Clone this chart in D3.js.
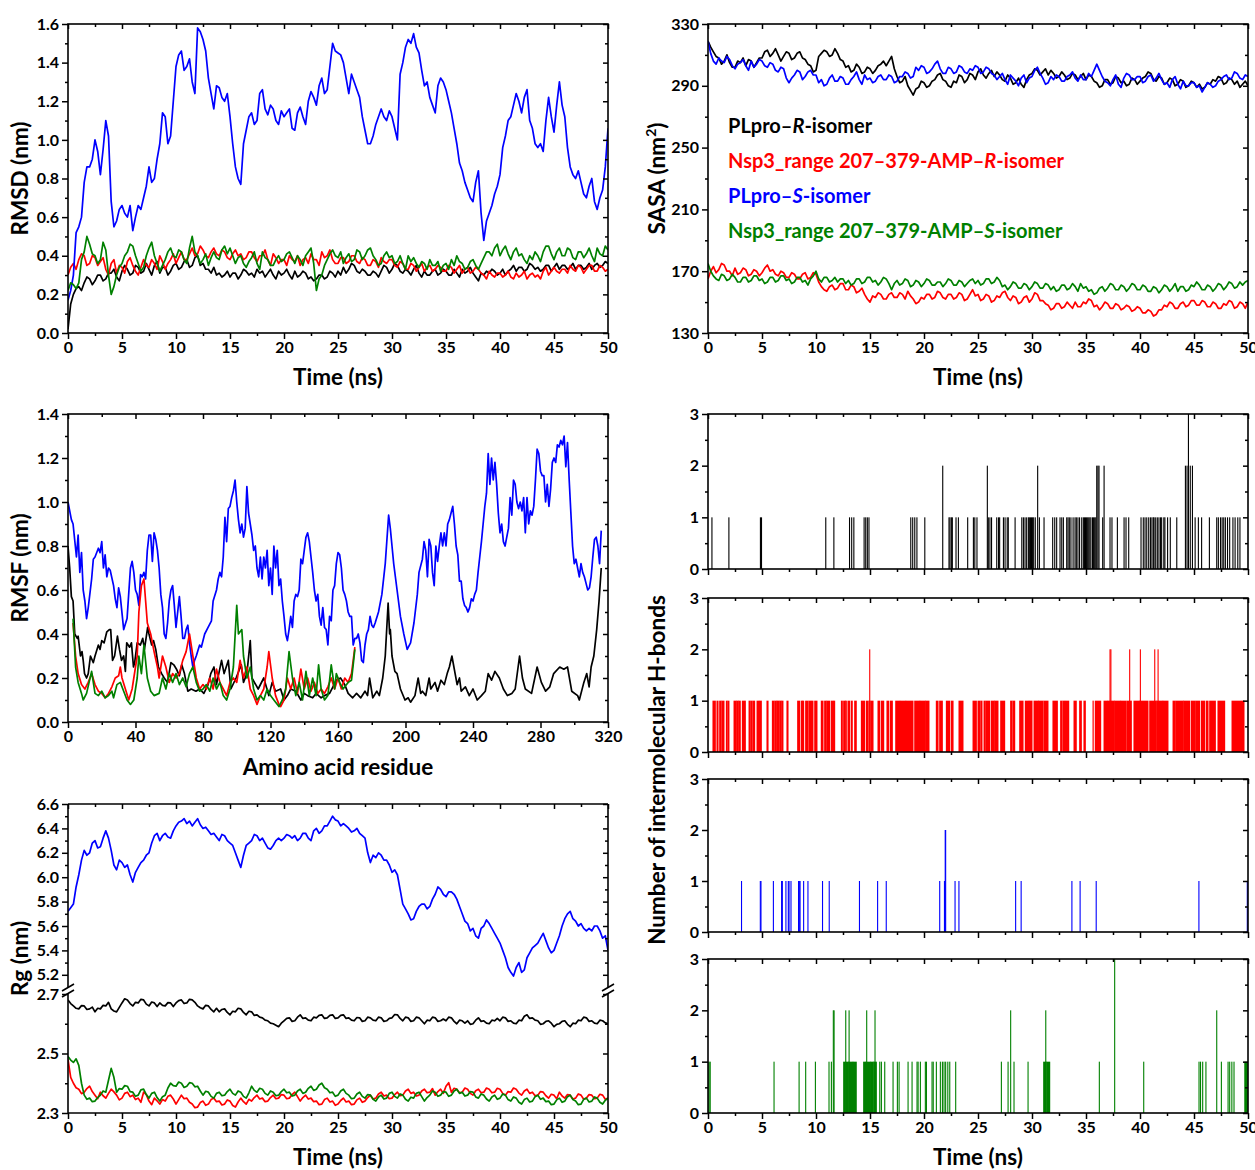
<!DOCTYPE html>
<html><head><meta charset="utf-8">
<script src="https://cdn.jsdelivr.net/npm/d3@7"></script>
<style>body{margin:0;background:#fff;} svg text{font-family:Lato,'Open Sans',sans-serif;font-weight:700;}</style>
</head><body>
<script>
// ---------------- DATA ----------------
const colors = {black:"#000000", red:"#ff0000", blue:"#0000ff", green:"#008000"};
const legendNames = [
  ["PLpro–", "R", "-isomer", "black"],
  ["Nsp3_range 207–379-AMP–", "R", "-isomer", "red"],
  ["PLpro–", "S", "-isomer", "blue"],
  ["Nsp3_range 207–379-AMP–", "S", "-isomer", "green"]
];
const timeTicks = [0,5,10,15,20,25,30,35,40,45,50];
const timeMinor = [2.5,7.5,12.5,17.5,22.5,27.5,32.5,37.5,42.5,47.5];
const rmsdTicks = [0,0.2,0.4,0.6,0.8,1.0,1.2,1.4,1.6];
const rmsdMinor = [0.1,0.3,0.5,0.7,0.9,1.1,1.3,1.5];
const sasaTicks = [130,170,210,250,290,330];
const sasaMinor = [150,190,230,270,310];
const resTicks = [0,40,80,120,160,200,240,280,320];
const resMinor = [20,60,100,140,180,220,260,300];
const rmsfTicks = [0,0.2,0.4,0.6,0.8,1.0,1.2,1.4];
const rmsfMinor = [0.1,0.3,0.5,0.7,0.9,1.1,1.3];
const rgUpTicks = [5.2,5.4,5.6,5.8,6.0,6.2,6.4,6.6];
const rgUpMinor = [5.3,5.5,5.7,5.9,6.1,6.3,6.5];
const rgLowTicks = [2.3,2.5,2.7];
const rgLowMinor = [2.4,2.6];
const hbTicks = [0,1,2,3];
const hbMinor = [0.5,1.5,2.5];

// RMSD (nm), sampled every 0.25 ns from 0 to 50 ns
const rmsdBlack = [0.02,0.15,0.20,0.23,0.24,0.22,0.26,0.29,0.28,0.25,0.27,0.30,0.30,0.27,0.28,0.31,0.31,0.33,0.29,0.27,
0.32,0.35,0.33,0.30,0.31,0.35,0.34,0.31,0.32,0.36,0.33,0.30,0.35,0.37,0.31,0.34,0.34,0.30,0.32,0.35,
0.36,0.33,0.34,0.37,0.38,0.34,0.35,0.39,0.40,0.35,0.36,0.33,0.33,0.31,0.34,0.30,0.31,0.29,0.30,0.32,
0.29,0.31,0.31,0.28,0.30,0.33,0.32,0.30,0.31,0.29,0.33,0.31,0.32,0.29,0.31,0.33,0.30,0.28,0.32,0.30,
0.31,0.33,0.30,0.28,0.32,0.29,0.30,0.32,0.31,0.28,0.29,0.27,0.28,0.30,0.30,0.28,0.29,0.32,0.31,0.29,
0.32,0.30,0.34,0.31,0.33,0.36,0.35,0.32,0.31,0.33,0.32,0.30,0.30,0.32,0.31,0.29,0.32,0.35,0.34,0.31,
0.33,0.36,0.35,0.32,0.31,0.33,0.32,0.30,0.33,0.35,0.31,0.29,0.32,0.30,0.30,0.32,0.33,0.30,0.31,0.33,
0.32,0.30,0.30,0.33,0.31,0.29,0.33,0.31,0.32,0.34,0.31,0.29,0.27,0.31,0.30,0.32,0.31,0.33,0.32,0.30,
0.31,0.33,0.30,0.32,0.33,0.35,0.32,0.34,0.34,0.32,0.33,0.36,0.35,0.33,0.34,0.32,0.33,0.35,0.35,0.32,
0.34,0.36,0.33,0.35,0.35,0.33,0.34,0.36,0.33,0.35,0.35,0.33,0.34,0.36,0.33,0.35,0.36,0.34,0.35,0.37,0.36];
const rmsdRed = [0.30,0.34,0.36,0.33,0.38,0.41,0.40,0.35,0.36,0.40,0.39,0.35,0.37,0.39,0.33,0.30,0.36,0.38,0.31,0.35,
0.34,0.31,0.37,0.39,0.35,0.32,0.30,0.34,0.38,0.35,0.34,0.38,0.36,0.33,0.40,0.37,0.33,0.36,0.38,0.41,
0.36,0.39,0.42,0.38,0.38,0.41,0.44,0.40,0.41,0.45,0.43,0.40,0.39,0.42,0.44,0.41,0.40,0.43,0.42,0.39,
0.38,0.41,0.43,0.40,0.41,0.38,0.39,0.42,0.42,0.39,0.37,0.40,0.40,0.43,0.38,0.35,0.41,0.39,0.36,0.38,
0.38,0.35,0.40,0.38,0.37,0.40,0.35,0.38,0.39,0.36,0.41,0.38,0.38,0.35,0.42,0.39,0.40,0.43,0.38,0.36,
0.36,0.39,0.39,0.36,0.37,0.40,0.40,0.37,0.36,0.39,0.38,0.35,0.35,0.38,0.37,0.34,0.39,0.37,0.36,0.38,
0.38,0.35,0.34,0.37,0.36,0.33,0.33,0.36,0.35,0.32,0.34,0.36,0.32,0.34,0.35,0.32,0.33,0.35,0.34,0.32,
0.32,0.35,0.34,0.31,0.33,0.35,0.31,0.33,0.34,0.31,0.32,0.34,0.33,0.31,0.30,0.28,0.32,0.30,0.29,0.31,
0.31,0.29,0.30,0.32,0.29,0.28,0.31,0.29,0.30,0.32,0.28,0.30,0.31,0.29,0.30,0.28,0.32,0.34,0.30,0.32,
0.34,0.32,0.31,0.33,0.33,0.31,0.35,0.33,0.32,0.35,0.34,0.31,0.33,0.35,0.35,0.32,0.32,0.35,0.34,0.32,0.33];
const rmsdBlue = [0.17,0.22,0.30,0.52,0.55,0.60,0.78,0.86,0.86,0.90,1.00,0.94,0.82,0.95,1.10,1.02,0.68,0.55,0.58,0.64,
0.66,0.62,0.60,0.66,0.53,0.60,0.66,0.64,0.70,0.76,0.86,0.78,0.80,0.90,0.98,1.14,1.12,0.98,1.02,1.20,
1.38,1.44,1.46,1.36,1.38,1.42,1.30,1.24,1.58,1.56,1.52,1.46,1.32,1.24,1.16,1.28,1.27,1.22,1.20,1.24,
1.12,0.98,0.86,0.80,0.77,0.98,1.05,1.12,1.14,1.08,1.10,1.24,1.26,1.16,1.13,1.18,1.16,1.10,1.08,1.15,
1.12,1.14,1.16,1.06,1.05,1.14,1.17,1.12,1.08,1.20,1.25,1.22,1.18,1.28,1.32,1.24,1.26,1.38,1.50,1.46,
1.45,1.44,1.40,1.32,1.24,1.34,1.30,1.26,1.22,1.12,1.05,0.98,0.98,1.02,1.08,1.12,1.16,1.12,1.10,1.15,
1.12,1.06,1.00,1.34,1.40,1.48,1.52,1.50,1.55,1.48,1.45,1.36,1.28,1.30,1.22,1.18,1.14,1.28,1.32,1.30,
1.26,1.20,1.14,1.06,0.98,0.88,0.84,0.78,0.74,0.70,0.68,0.78,0.84,0.62,0.48,0.58,0.62,0.66,0.72,0.76,
0.82,0.96,1.02,1.10,1.12,1.18,1.24,1.20,1.14,1.22,1.26,1.10,1.06,0.98,0.96,0.98,0.94,1.10,1.22,1.12,
1.04,1.18,1.30,1.18,1.12,0.96,0.86,0.82,0.80,0.84,0.78,0.72,0.70,0.76,0.80,0.68,0.64,0.70,0.74,0.86,1.06];
const rmsdGreen = [0.22,0.26,0.25,0.23,0.26,0.38,0.42,0.50,0.46,0.41,0.40,0.36,0.38,0.47,0.43,0.30,0.20,0.24,0.30,0.34,
0.36,0.40,0.42,0.46,0.45,0.40,0.36,0.32,0.34,0.40,0.44,0.47,0.40,0.36,0.32,0.35,0.38,0.42,0.44,0.40,
0.39,0.43,0.42,0.38,0.36,0.44,0.50,0.42,0.40,0.36,0.38,0.41,0.35,0.39,0.42,0.39,0.38,0.43,0.45,0.41,
0.44,0.40,0.36,0.39,0.40,0.36,0.34,0.37,0.39,0.42,0.36,0.33,0.42,0.39,0.38,0.35,0.35,0.38,0.40,0.37,
0.38,0.41,0.42,0.39,0.36,0.40,0.38,0.35,0.40,0.42,0.44,0.36,0.22,0.28,0.30,0.35,0.38,0.41,0.43,0.40,
0.39,0.42,0.36,0.39,0.41,0.37,0.38,0.43,0.42,0.38,0.40,0.43,0.44,0.40,0.38,0.35,0.36,0.40,0.42,0.39,
0.40,0.36,0.37,0.40,0.36,0.33,0.40,0.37,0.39,0.36,0.34,0.37,0.36,0.33,0.38,0.35,0.35,0.37,0.32,0.35,
0.36,0.33,0.38,0.35,0.40,0.37,0.36,0.33,0.34,0.37,0.38,0.35,0.33,0.36,0.39,0.42,0.42,0.40,0.44,0.46,
0.40,0.43,0.45,0.41,0.38,0.42,0.44,0.40,0.41,0.38,0.36,0.40,0.38,0.42,0.40,0.37,0.42,0.45,0.45,0.41,
0.38,0.42,0.44,0.40,0.40,0.44,0.43,0.39,0.38,0.42,0.42,0.39,0.41,0.44,0.40,0.37,0.44,0.41,0.40,0.45,0.43];

// SASA (nm^2), every 0.25 ns
const sasaBlack = [319,315,312,309,308,304,306,310,305,302,302,306,305,308,303,307,306,302,305,308,
308,312,313,309,311,314,310,306,309,312,311,307,308,311,312,308,307,304,303,299,
300,309,311,313,312,309,310,314,311,307,306,302,303,299,300,304,302,298,299,302,
301,298,300,303,304,306,303,306,309,301,296,292,293,296,290,287,284,288,289,293,
292,289,290,293,294,297,298,294,293,290,289,293,292,297,296,292,294,298,297,294,
299,301,297,295,298,300,296,299,297,294,293,297,295,291,292,295,291,289,294,297,
298,301,300,297,299,301,297,300,298,295,296,299,297,294,295,298,297,294,296,298,
294,297,296,293,292,289,290,294,294,291,292,296,295,292,293,290,291,295,294,291,
293,295,296,299,298,294,293,296,295,291,292,295,294,290,291,294,293,289,290,293,
292,289,291,288,289,292,291,294,293,296,295,291,292,295,294,291,293,289,291,293,290];
const sasaRed = [165,170,173,169,171,175,174,170,170,167,172,168,169,172,171,167,168,171,170,167,
169,172,174,170,171,168,167,170,169,166,166,169,168,165,165,168,169,165,166,169,
168,163,160,158,157,160,161,158,159,162,162,158,158,161,160,156,157,159,155,152,
150,154,153,156,155,152,152,155,156,153,153,156,155,152,157,154,152,149,150,153,
152,155,155,152,153,157,156,153,152,155,155,152,153,156,155,151,152,155,158,154,
155,151,152,155,154,150,151,154,153,156,157,153,151,154,153,149,150,153,154,150,
152,156,155,151,151,149,148,145,146,149,149,146,147,150,148,146,150,147,147,150,
149,152,151,147,148,145,147,150,149,146,146,149,148,145,146,148,147,144,145,147,
146,143,143,145,144,141,142,145,145,148,147,150,149,146,146,149,150,147,148,151,
151,148,148,151,150,147,147,150,149,146,146,149,148,151,150,146,147,150,149,146,150];
const sasaBlue = [319,311,306,304,308,306,305,309,307,303,301,304,305,307,303,300,306,302,304,307,
306,303,302,305,304,300,299,302,301,295,292,295,297,300,299,294,296,299,300,297,
297,292,294,290,291,295,297,293,293,296,295,291,291,294,296,299,294,291,297,294,
295,292,293,296,297,294,294,297,296,292,293,296,296,299,298,295,296,302,300,303,
302,298,299,301,304,306,301,298,298,302,301,298,299,303,302,299,298,301,300,303,
302,298,299,302,301,298,297,294,296,298,294,291,297,295,293,290,295,297,292,295,
296,300,302,298,295,291,292,296,294,297,296,293,293,296,297,299,295,293,297,294,
294,298,296,300,304,300,296,293,292,290,294,297,291,289,295,298,297,294,294,296,
296,292,293,296,297,293,295,298,294,291,292,289,294,296,291,288,293,290,290,292,
292,289,290,286,289,292,291,289,290,293,294,296,297,294,295,299,298,295,294,297,296];
const sasaGreen = [175,170,167,165,164,168,167,164,165,168,166,163,163,166,166,163,164,167,167,164,
165,162,163,166,166,163,164,167,167,164,165,162,163,166,166,163,164,161,165,167,
170,165,163,166,166,163,164,166,163,165,165,162,164,161,162,165,165,162,163,166,
166,163,164,161,163,166,165,162,158,162,164,161,162,165,164,160,161,164,163,160,
162,165,164,161,161,163,163,160,162,165,164,161,161,164,163,160,162,164,165,162,
164,161,162,165,165,162,163,166,164,160,161,158,160,163,162,159,159,162,161,158,
160,163,162,159,159,162,161,158,160,157,158,161,161,158,159,162,160,157,162,159,
160,157,158,155,156,159,160,157,159,162,161,158,158,161,160,157,159,162,161,158,
158,161,160,157,157,160,159,156,158,161,160,157,159,162,157,160,160,157,158,161,
160,163,161,158,158,161,160,157,159,162,161,158,160,163,162,159,160,163,161,163,164];

// RMSF (nm) : [residue, value]
const rmsfBlack = [[0,0.80],[1,0.70],[2,0.57],[3,0.55],[4,0.40],[5.5,0.38],[6,0.39],[7.4,0.30],[8.3,0.32],[9,0.28],[9.8,0.22],[11,0.20],[12,0.22],[13.3,0.30],[15,0.27],[16,0.30],[18,0.35],[19,0.33],[20,0.37],[21.4,0.36],[23,0.41],[24.5,0.42],[25.3,0.42],[26.4,0.28],[27.6,0.30],[29.3,0.39],[30.5,0.33],[31.7,0.28],[33,0.30],[34,0.23],[34.8,0.36],[36.5,0.34],[37.6,0.36],[38.8,0.25],[39.5,0.27],[41,0.36],[42.9,0.35],[44.3,0.38],[45.3,0.33],[47.2,0.43],[48,0.40],[49.6,0.35],[50.7,0.37],[52,0.33],[53.6,0.25],[55.5,0.22],[57,0.20],[59,0.18],[61,0.27],[62.7,0.26],[64.3,0.24],[66,0.21],[67.4,0.26],[69,0.22],[71,0.14],[73,0.15],[75.8,0.14],[78,0.15],[80.5,0.13],[83,0.17],[84.6,0.22],[86.5,0.25],[88,0.17],[91,0.28],[92.5,0.22],[95,0.28],[96.5,0.15],[99.6,0.20],[102.7,0.26],[104,0.18],[106,0.22],[108,0.37],[109,0.20],[112.7,0.15],[116,0.20],[119,0.12],[121,0.18],[123,0.14],[126,0.15],[128,0.10],[130,0.12],[132,0.15],[135,0.14],[138,0.10],[140,0.13],[142,0.12],[145,0.11],[147,0.13],[150,0.11],[152,0.12],[155,0.13],[157,0.16],[159,0.19],[161.5,0.20],[164,0.17],[166,0.13],[168.7,0.11],[171,0.13],[173.5,0.11],[176,0.14],[177.5,0.12],[178.7,0.20],[180.6,0.11],[183,0.14],[184.5,0.12],[186.5,0.20],[188,0.30],[189.7,0.54],[190.6,0.40],[191,0.42],[192,0.30],[193.7,0.23],[195,0.22],[197,0.15],[199.7,0.10],[201.6,0.11],[203,0.09],[205.6,0.12],[207.5,0.20],[209,0.13],[210,0.14],[212,0.12],[214,0.20],[215,0.15],[217.5,0.18],[219,0.14],[221,0.19],[223,0.17],[224.7,0.22],[226,0.25],[227.5,0.30],[229.4,0.22],[230.6,0.17],[232,0.20],[233,0.14],[235.5,0.16],[237.8,0.12],[240,0.15],[242.5,0.10],[245,0.12],[247.3,0.14],[249,0.22],[251,0.19],[253,0.23],[255.6,0.20],[258,0.15],[260.4,0.12],[263,0.13],[265,0.15],[267.6,0.30],[269.3,0.20],[271,0.15],[274.7,0.13],[278,0.25],[280.5,0.18],[283,0.14],[285.5,0.16],[287.8,0.22],[291.4,0.25],[293.8,0.24],[296,0.25],[298.5,0.14],[302,0.12],[303,0.10],[305.7,0.18],[307.4,0.22],[308.8,0.16],[310,0.25],[311.6,0.30],[313.3,0.42],[314.7,0.55],[316,0.70]];
const rmsfBlue = [[0,1.00],[2,0.92],[3,0.90],[5,0.75],[6,0.85],[7,0.68],[8,0.77],[9,0.60],[10,0.55],[11,0.47],[12,0.52],[14,0.65],[15,0.74],[16,0.75],[18,0.79],[19,0.77],[20,0.82],[21,0.70],[22,0.76],[23,0.66],[24,0.70],[25,0.69],[27,0.62],[28,0.56],[29,0.52],[30,0.61],[31,0.57],[33,0.42],[35,0.47],[37,0.70],[38,0.73],[39,0.68],[40,0.60],[41,0.58],[42,0.53],[43,0.67],[44,0.66],[45,0.68],[46,0.65],[47,0.78],[48,0.85],[49,0.85],[50,0.73],[51,0.86],[52,0.83],[53,0.78],[54,0.70],[55,0.58],[56,0.52],[57,0.40],[58,0.38],[59,0.45],[60,0.55],[61,0.60],[62,0.62],[63,0.53],[64,0.43],[65,0.50],[66,0.57],[67,0.48],[68,0.38],[69,0.38],[70,0.42],[71,0.44],[72,0.36],[73,0.30],[74,0.25],[75,0.28],[76,0.30],[78,0.35],[79,0.34],[81,0.40],[83,0.43],[85,0.46],[86,0.55],[88,0.60],[89,0.65],[90,0.68],[91,0.66],[92,0.75],[93,0.93],[94,0.82],[95,0.97],[96,0.98],[97,1.02],[98,1.05],[99,1.10],[100,1.00],[101,0.92],[102,0.86],[103,0.90],[104,0.84],[105,0.88],[106,1.07],[107,0.95],[108,0.90],[109,0.85],[110,0.78],[111,0.80],[112,0.70],[113,0.66],[114,0.75],[115,0.65],[116,0.75],[117,0.70],[118,0.78],[119,0.62],[120,0.70],[121,0.58],[122,0.80],[123,0.70],[124,0.78],[125,0.62],[126,0.65],[127,0.55],[128,0.48],[129,0.40],[130,0.37],[131,0.42],[132,0.48],[133,0.43],[134,0.55],[135,0.58],[136,0.57],[137,0.60],[138,0.74],[139,0.72],[140,0.78],[141,0.84],[142,0.86],[143,0.82],[144,0.75],[145,0.68],[146,0.60],[147,0.55],[148,0.58],[149,0.48],[150,0.44],[151,0.52],[152,0.43],[153,0.42],[154,0.35],[155,0.48],[156,0.46],[157,0.60],[158,0.62],[159,0.72],[160,0.77],[161,0.76],[162,0.70],[163,0.60],[164,0.58],[165,0.55],[166,0.50],[167,0.48],[168,0.48],[169,0.35],[170,0.38],[171,0.38],[172,0.40],[173,0.36],[174,0.28],[175,0.27],[176,0.35],[177,0.40],[178,0.42],[179,0.48],[180,0.44],[181,0.43],[182,0.45],[184,0.50],[186,0.58],[188,0.72],[190,0.94],[191,0.88],[192,0.80],[193,0.72],[195,0.60],[197,0.48],[199,0.40],[201,0.33],[203,0.36],[205,0.45],[207,0.58],[208,0.68],[210,0.74],[211,0.82],[212,0.78],[213,0.66],[214,0.83],[215,0.80],[216,0.68],[217,0.62],[218,0.80],[219,0.73],[220,0.80],[221,0.86],[222,0.80],[223,0.86],[224,0.80],[225,0.90],[226,0.92],[227,0.95],[228,0.98],[229,0.90],[230,0.80],[231,0.76],[232,0.64],[233,0.64],[234,0.56],[235,0.53],[236,0.52],[237,0.50],[238,0.52],[239,0.56],[240,0.55],[241,0.58],[242,0.60],[243,0.68],[244,0.75],[245,0.82],[246,0.90],[247,0.98],[248,1.04],[249,1.22],[250,1.08],[251,1.20],[252,1.10],[253,1.18],[254,1.08],[255,0.95],[256,0.86],[257,0.90],[258,0.82],[259,0.80],[260,0.84],[261,0.88],[262,1.02],[263,0.94],[264,1.10],[265,1.08],[266,1.00],[267,0.97],[268,1.00],[269,0.96],[270,1.02],[271,0.86],[272,1.02],[273,0.90],[274,0.96],[275,0.94],[276,0.98],[277,1.10],[278,1.24],[279,1.22],[280,1.14],[281,1.12],[282,1.12],[283,1.00],[284,1.08],[285,0.98],[286,1.06],[287,1.18],[288,1.20],[289,1.18],[290,1.26],[291,1.25],[292,1.28],[293,1.26],[294,1.30],[295,1.16],[296,1.27],[297,1.10],[298,0.95],[299,0.80],[300,0.72],[301,0.74],[302,0.70],[303,0.66],[304,0.72],[305,0.68],[306,0.66],[307,0.63],[308,0.60],[309,0.61],[310,0.66],[311,0.75],[312,0.83],[313,0.84],[314,0.80],[315,0.72],[316,0.87]];
const rmsfRed = [[3,0.45],[4.5,0.30],[6,0.22],[8,0.17],[10,0.15],[12,0.18],[14,0.22],[16,0.17],[18,0.14],[20,0.13],[22,0.11],[24,0.13],[26,0.16],[28,0.20],[30,0.21],[31,0.25],[32,0.20],[34,0.15],[36,0.10],[38,0.15],[40,0.25],[41,0.30],[42,0.50],[43.5,0.62],[45,0.65],[46,0.55],[47,0.45],[49,0.40],[51,0.32],[53,0.25],[54,0.20],[56,0.30],[58,0.25],[60,0.18],[62,0.22],[64,0.20],[66,0.22],[68,0.28],[70,0.32],[72,0.40],[73,0.35],[74,0.30],[76,0.20],[78,0.15],[80,0.17],[82,0.15],[84,0.20],[86,0.15],[88,0.24],[90,0.18],[92,0.15],[94,0.12],[96,0.18],[98,0.20],[100,0.18],[102,0.28],[104,0.20],[106,0.25],[108,0.15],[110,0.12],[112,0.08],[114,0.12],[116,0.15],[118,0.25],[119,0.32],[121,0.20],[123,0.12],[125,0.08],[126,0.07],[128,0.10],[130,0.20],[132,0.15],[134,0.20],[136,0.13],[138,0.24],[140,0.15],[142,0.20],[144,0.14],[146,0.18],[148,0.13],[150,0.15],[152,0.13],[154,0.16],[156,0.20],[158,0.15],[160,0.20],[162,0.15],[164,0.20],[166,0.18],[168,0.22],[170,0.34]];
const rmsfGreen = [[3,0.47],[4.5,0.25],[6,0.18],[8,0.13],[9,0.10],[11,0.13],[12.5,0.18],[14,0.23],[16,0.13],[18,0.12],[20,0.14],[22,0.11],[24,0.12],[26,0.14],[27,0.11],[29,0.17],[31,0.18],[33,0.14],[35,0.10],[37,0.08],[39,0.10],[41,0.20],[42,0.30],[43.5,0.22],[45,0.35],[47,0.20],[49,0.14],[51,0.12],[54,0.13],[56,0.20],[58,0.15],[60,0.22],[62,0.18],[64,0.22],[66,0.17],[68,0.20],[70,0.16],[72,0.22],[74,0.25],[76,0.18],[78,0.14],[80,0.15],[82,0.17],[84,0.14],[86,0.20],[88,0.15],[90,0.18],[92,0.12],[94,0.10],[96,0.15],[98,0.25],[100,0.53],[101,0.40],[103,0.42],[104,0.30],[106,0.20],[108,0.25],[110,0.15],[112,0.10],[114,0.12],[116,0.10],[118,0.15],[120,0.12],[122,0.10],[125,0.07],[127,0.10],[129,0.15],[131,0.32],[133,0.20],[135,0.12],[137,0.18],[139,0.10],[141,0.23],[143,0.12],[145,0.20],[147,0.12],[148.5,0.26],[150,0.15],[152,0.10],[154,0.12],[156,0.26],[158,0.15],[159,0.22],[161,0.18],[163,0.15],[166,0.18],[168,0.19],[170,0.33]];

// Rg (nm), every 0.25 ns
const rgBlack = [2.680,2.668,2.660,2.652,2.650,2.661,2.660,2.648,2.650,2.656,2.640,2.652,2.650,2.662,2.660,2.672,2.650,2.643,2.640,2.655,
2.670,2.684,2.680,2.668,2.660,2.672,2.670,2.682,2.680,2.666,2.660,2.673,2.670,2.658,2.670,2.662,2.660,2.671,2.670,2.658,
2.670,2.678,2.680,2.668,2.670,2.682,2.680,2.672,2.660,2.654,2.650,2.662,2.660,2.648,2.640,2.652,2.640,2.648,2.650,2.638,
2.630,2.642,2.640,2.652,2.650,2.638,2.630,2.642,2.640,2.628,2.630,2.622,2.620,2.612,2.610,2.602,2.600,2.595,2.590,2.602,
2.610,2.618,2.620,2.608,2.610,2.622,2.630,2.618,2.620,2.612,2.610,2.622,2.620,2.628,2.630,2.618,2.620,2.628,2.630,2.618,
2.620,2.628,2.630,2.618,2.620,2.612,2.610,2.621,2.620,2.608,2.610,2.622,2.620,2.612,2.610,2.622,2.620,2.608,2.610,2.618,
2.620,2.631,2.630,2.618,2.610,2.622,2.620,2.608,2.610,2.622,2.620,2.610,2.600,2.612,2.610,2.622,2.620,2.608,2.610,2.616,
2.610,2.622,2.620,2.608,2.600,2.612,2.610,2.602,2.610,2.598,2.600,2.612,2.620,2.608,2.610,2.602,2.600,2.612,2.610,2.618,
2.610,2.622,2.620,2.608,2.610,2.602,2.600,2.612,2.610,2.625,2.630,2.618,2.620,2.612,2.610,2.598,2.600,2.608,2.610,2.602,
2.590,2.598,2.600,2.608,2.610,2.598,2.590,2.602,2.600,2.612,2.610,2.622,2.620,2.608,2.610,2.602,2.600,2.612,2.610,2.603,2.600];
const rgRed = [2.480,2.420,2.400,2.385,2.380,2.365,2.370,2.382,2.390,2.372,2.360,2.348,2.370,2.358,2.350,2.366,2.380,2.371,2.360,2.344,
2.350,2.366,2.370,2.355,2.360,2.345,2.350,2.336,2.370,2.362,2.340,2.328,2.350,2.341,2.330,2.345,2.340,2.356,2.360,2.347,
2.330,2.345,2.360,2.348,2.350,2.336,2.330,2.318,2.320,2.335,2.340,2.326,2.330,2.345,2.350,2.338,2.340,2.327,2.330,2.344,
2.340,2.325,2.320,2.337,2.350,2.338,2.330,2.346,2.340,2.352,2.360,2.347,2.350,2.338,2.340,2.352,2.360,2.348,2.350,2.362,
2.360,2.348,2.350,2.362,2.370,2.355,2.340,2.352,2.360,2.347,2.350,2.338,2.340,2.328,2.330,2.345,2.350,2.337,2.340,2.326,
2.330,2.342,2.350,2.337,2.340,2.328,2.330,2.344,2.350,2.336,2.340,2.352,2.360,2.347,2.350,2.364,2.370,2.357,2.360,2.348,
2.350,2.362,2.370,2.358,2.360,2.374,2.380,2.366,2.370,2.357,2.360,2.374,2.380,2.368,2.370,2.382,2.360,2.372,2.380,2.366,
2.390,2.402,2.370,2.383,2.380,2.368,2.370,2.384,2.380,2.366,2.360,2.375,2.380,2.368,2.370,2.384,2.380,2.368,2.370,2.383,
2.380,2.366,2.360,2.372,2.370,2.384,2.380,2.367,2.360,2.374,2.380,2.366,2.370,2.358,2.360,2.372,2.370,2.358,2.350,2.363,
2.360,2.348,2.370,2.357,2.350,2.362,2.360,2.347,2.350,2.364,2.360,2.346,2.350,2.362,2.360,2.348,2.350,2.363,2.360,2.346,2.350];
const rgBlue = [5.72,5.75,5.78,5.92,6.02,6.14,6.22,6.18,6.20,6.28,6.30,6.24,6.25,6.32,6.38,6.32,6.22,6.10,6.06,6.14,
6.12,6.08,6.10,6.02,5.96,6.04,6.08,6.12,6.14,6.18,6.20,6.28,6.34,6.36,6.30,6.34,6.36,6.33,6.32,6.38,
6.42,6.45,6.46,6.48,6.44,6.46,6.42,6.45,6.48,6.43,6.40,6.41,6.38,6.35,6.36,6.33,6.30,6.35,6.34,6.30,
6.28,6.26,6.20,6.14,6.08,6.18,6.26,6.28,6.30,6.35,6.34,6.30,6.32,6.28,6.24,6.23,6.26,6.30,6.32,6.30,
6.32,6.35,6.34,6.32,6.34,6.30,6.32,6.36,6.36,6.32,6.30,6.38,6.40,6.36,6.38,6.42,6.42,6.46,6.50,6.47,
6.46,6.42,6.44,6.42,6.40,6.37,6.38,6.40,6.36,6.34,6.32,6.20,6.12,6.18,6.16,6.20,6.18,6.14,6.14,6.10,
6.04,6.06,6.02,5.90,5.78,5.74,5.70,5.65,5.66,5.72,5.76,5.78,5.78,5.74,5.76,5.82,5.86,5.92,5.90,5.86,
5.84,5.88,5.88,5.86,5.82,5.76,5.70,5.64,5.62,5.56,5.58,5.52,5.50,5.58,5.60,5.65,5.62,5.58,5.54,5.50,
5.46,5.40,5.34,5.26,5.22,5.19,5.26,5.30,5.22,5.24,5.34,5.38,5.42,5.44,5.46,5.50,5.54,5.48,5.42,5.38,
5.40,5.46,5.52,5.60,5.66,5.70,5.72,5.66,5.64,5.60,5.62,5.58,5.56,5.58,5.56,5.60,5.60,5.56,5.50,5.52,5.40];
const rgGreen = [2.490,2.478,2.470,2.482,2.460,2.400,2.360,2.346,2.350,2.338,2.340,2.352,2.360,2.374,2.370,2.410,2.450,2.420,2.370,2.382,
2.380,2.392,2.390,2.372,2.370,2.356,2.360,2.378,2.380,2.362,2.350,2.366,2.370,2.352,2.340,2.355,2.360,2.384,2.400,2.392,
2.390,2.404,2.400,2.386,2.390,2.402,2.400,2.388,2.390,2.374,2.360,2.373,2.370,2.356,2.350,2.366,2.370,2.358,2.360,2.372,
2.380,2.366,2.360,2.374,2.370,2.356,2.350,2.368,2.390,2.376,2.370,2.383,2.380,2.366,2.360,2.374,2.370,2.358,2.360,2.372,
2.380,2.368,2.370,2.357,2.360,2.374,2.380,2.366,2.370,2.383,2.390,2.376,2.380,2.394,2.400,2.385,2.380,2.368,2.370,2.356,
2.360,2.374,2.380,2.366,2.360,2.348,2.350,2.364,2.370,2.356,2.350,2.362,2.360,2.346,2.340,2.354,2.360,2.347,2.350,2.366,
2.370,2.356,2.350,2.364,2.360,2.346,2.340,2.353,2.350,2.366,2.370,2.355,2.340,2.352,2.360,2.374,2.370,2.356,2.360,2.372,
2.370,2.356,2.360,2.374,2.380,2.366,2.370,2.357,2.360,2.372,2.370,2.354,2.350,2.364,2.360,2.347,2.340,2.354,2.360,2.346,
2.350,2.364,2.360,2.345,2.340,2.354,2.350,2.336,2.330,2.345,2.350,2.337,2.340,2.355,2.360,2.346,2.350,2.338,2.340,2.328,
2.330,2.344,2.350,2.336,2.340,2.355,2.360,2.345,2.340,2.328,2.330,2.346,2.350,2.337,2.340,2.354,2.350,2.336,2.330,2.343,2.350];

// H-bond events: single frames (times, ns) by count; runs [tStart, tEnd] with count 1
const hbBlackOnes = [0.36,1.93,4.85,4.95,10.9,11.65,13.1,13.3,13.5,14.45,14.6,14.75,14.9,18.77,18.95,19.14,19.34,20.07,22.31,22.4,22.53,22.62,22.96,23.18,24.04,24.57,24.7,24.9,25.95,26.1,26.25,26.73,26.9,27.0,27.35,27.5,27.7,27.8,28.43,29.05,29.2,29.35,29.5,29.66,29.75,29.85,29.95,30.05,30.15,30.3,30.68,31.11,31.91,32.1,32.28,32.59,32.75,32.9,33.21,33.33,33.45,33.6,33.8,33.98,34.1,34.25,34.4,34.6,34.75,34.85,34.95,35.05,35.15,35.25,35.35,35.45,35.6,35.7,35.8,35.9,36.54,37.22,37.4,37.9,38.52,38.7,38.95,40.09,40.3,40.46,40.62,40.8,40.96,41.1,41.23,41.3,41.45,41.6,41.75,41.9,42.0,42.2,42.3,42.55,42.8,43.4,45.1,45.4,45.7,46.42,47.1,47.25,47.45,47.6,47.75,47.9,48.1,48.3,48.6,48.8,49.05,49.25];
const hbBlackTwos = [21.73,25.86,30.52,35.99,36.1,36.2,36.67,44.2,44.35,44.65,44.85];
const hbBlackThrees = [44.48];
const hbRedRuns = [[0.46,0.68],[0.83,0.93],[1.08,1.2],[1.28,1.48],[1.70,1.78],[1.86,1.94],[2.41,2.6],[2.66,2.8],[2.86,2.99],[3.18,3.3],[3.38,3.46],[3.80,3.92],[4.01,4.1],[4.2,4.32],[4.54,4.7],[4.76,4.94],[5.46,5.56],[5.96,6.1],[6.18,6.33],[6.39,6.45],[6.5,6.57],[6.64,6.75],[6.82,6.94],[7.31,7.41],[8.30,8.49],[8.64,8.75],[8.8,8.86],[9.04,9.12],[9.2,9.26],[9.35,9.5],[9.58,9.72],[9.88,10.09],[10.49,10.65],[10.80,10.95],[11.02,11.27],[11.42,11.55],[11.62,11.73],[12.35,12.44],[12.56,12.7],[12.75,12.81],[12.96,13.12],[13.27,13.36],[13.58,13.73],[14.2,14.5],[14.66,14.81],[14.9,15.03],[15.12,15.28],[15.74,15.9],[16.05,16.27],[16.57,16.73],[16.88,17.07],[17.38,17.75],[17.81,18.3],[18.35,18.98],[19.14,19.6],[19.65,20.1],[20.15,20.46],[21.14,21.3],[21.45,21.7],[22.07,22.38],[22.53,22.69],[23.24,23.61],[24.54,24.85],[25.0,25.15],[25.25,25.37],[25.56,25.68],[25.77,26.08],[26.23,26.5],[26.55,26.85],[27.1,27.47],[28.02,28.15],[28.24,28.4],[28.86,29.17],[29.38,29.7],[29.75,30.0],[30.19,30.6],[30.65,31.02],[31.11,31.48],[31.94,32.35],[32.65,32.78],[32.87,33.02],[33.09,33.4],[33.89,34.1],[34.41,34.57],[34.81,34.94],[35.65,35.67],[35.86,36.36],[36.67,37.0],[37.05,37.6],[37.65,38.2],[38.25,38.73],[38.83,39.2],[39.44,39.9],[39.95,40.74],[40.9,41.5],[41.55,42.1],[42.15,42.59],[43.06,43.21],[43.3,44.0],[44.05,44.6],[44.75,45.06],[45.15,45.52],[45.68,45.99],[46.14,46.3],[46.45,46.98],[47.22,47.84],[48.52,49.63]];
const hbRedTwos = [14.97,37.22,37.3,39.04,40.03,41.36,41.67];
const hbBlueOnes = [3.1,4.84,4.9,6.05,6.81,6.88,7.21,7.43,7.5,7.68,8.38,8.45,8.52,8.85,9.25,10.6,11.22,14.02,15.7,16.5,21.45,21.89,22.87,23.23,28.48,28.99,33.69,34.45,35.94,45.45,49.93];
const hbBlueTwos = [21.96,22.0];
const hbGreenOnes = [0.0,0.1,0.2,6.11,8.43,9.04,9.94,11.2,11.42,15.9,16.05,16.36,17.13,17.53,17.69,18.52,18.89,19.35,19.45,19.66,20.12,20.22,20.74,20.85,21.14,21.51,21.7,21.85,22.0,22.2,22.38,22.93,27.16,27.78,28.33,29.63,36.23,40.34,45.46,45.6,45.8,46.1,47.53,48.15,48.3,48.5,48.7];
const hbGreenRuns = [[12.56,12.7],[12.75,13.0],[13.05,13.4],[13.45,13.73],[14.41,14.6],[14.65,15.0],[15.05,15.3],[15.35,15.59],[31.08,31.3],[31.36,31.64],[49.7,49.94]];
const hbGreenTwos = [11.6,11.67,12.75,13.06,14.69,15.46,28.02,31.27,47.1];
const hbGreenThrees = [37.65];

// ---------------- DRAWING ----------------
const FONT = "Lato, 'Open Sans', sans-serif";
const svg = d3.select("body").append("svg").attr("width",1255).attr("height",1170);
let clipId = 0;
const series = vals => vals.map((v,i)=>[i*50/(vals.length-1), v]);

function styleAxis(g){
  g.select(".domain").remove();
  g.selectAll("line").attr("stroke","#000").attr("stroke-width",1.5);
  g.selectAll("text").attr("font-family",FONT).attr("font-weight",700).attr("font-size",16).attr("fill","#000");
}
const fmt1 = d3.format(".1f"), fmt0 = d3.format("d");

function xAxes(x, T, B, major, minor, labels, f){
  svg.append("g").attr("transform",`translate(0,${B})`).call(d3.axisBottom(x).tickValues(minor).tickSize(3).tickFormat(()=>"")).call(styleAxis);
  svg.append("g").attr("transform",`translate(0,${B})`).call(d3.axisBottom(x).tickValues(major).tickSize(6).tickPadding(3).tickFormat(labels? f : ()=>"")).call(styleAxis);
  svg.append("g").attr("transform",`translate(0,${T})`).call(d3.axisTop(x).tickValues(minor).tickSize(-3).tickFormat(()=>"")).call(styleAxis);
  svg.append("g").attr("transform",`translate(0,${T})`).call(d3.axisTop(x).tickValues(major).tickSize(-5).tickFormat(()=>"")).call(styleAxis);
}
function yAxes(y, L, R, major, minor, f){
  svg.append("g").attr("transform",`translate(${L},0)`).call(d3.axisLeft(y).tickValues(minor).tickSize(3).tickFormat(()=>"")).call(styleAxis);
  svg.append("g").attr("transform",`translate(${L},0)`).call(d3.axisLeft(y).tickValues(major).tickSize(6).tickPadding(3).tickFormat(f)).call(styleAxis);
  svg.append("g").attr("transform",`translate(${R},0)`).call(d3.axisRight(y).tickValues(minor).tickSize(-3).tickFormat(()=>"")).call(styleAxis);
  svg.append("g").attr("transform",`translate(${R},0)`).call(d3.axisRight(y).tickValues(major).tickSize(-5).tickFormat(()=>"")).call(styleAxis);
}
function frame(L,R,T,B){
  svg.append("rect").attr("x",L).attr("y",T).attr("width",R-L).attr("height",B-T)
    .attr("fill","none").attr("stroke","#000").attr("stroke-width",1.6);
}
function clip(L,R,T,B){
  const id="c"+(clipId++);
  svg.append("clipPath").attr("id",id).append("rect").attr("x",L).attr("y",T-1).attr("width",R-L).attr("height",B-T+2);
  return svg.append("g").attr("clip-path",`url(#${id})`);
}
function drawLine(g, data, x, y, color, w){
  g.append("path").datum(data).attr("fill","none").attr("stroke",color).attr("stroke-width",w||1.7)
    .attr("stroke-linejoin","round").attr("d", d3.line().x(d=>x(d[0])).y(d=>y(d[1])));
}
function xTitle(text, cx, yb){
  svg.append("text").attr("x",cx).attr("y",yb).attr("text-anchor","middle").attr("font-size",22.5).text(text);
}
function yTitle(text, xb, cy){
  return svg.append("text").attr("transform",`translate(${xb},${cy}) rotate(-90)`).attr("text-anchor","middle").attr("font-size",22.5).text(text);
}

// ---- Panel 1: RMSD
{
  const L=68,R=608,T=24,B=333;
  const x=d3.scaleLinear().domain([0,50]).range([L,R]);
  const y=d3.scaleLinear().domain([0,1.6]).range([B,T]);
  const g=clip(L,R,T,B);
  drawLine(g, series(rmsdBlack), x, y, colors.black);
  drawLine(g, series(rmsdRed), x, y, colors.red);
  drawLine(g, series(rmsdBlue), x, y, colors.blue);
  drawLine(g, series(rmsdGreen), x, y, colors.green);
  xAxes(x,T,B,timeTicks,timeMinor,true,fmt0);
  yAxes(y,L,R,rmsdTicks,rmsdMinor,fmt1);
  frame(L,R,T,B);
  xTitle("Time (ns)", (L+R)/2, 385);
  yTitle("RMSD (nm)", 28, (T+B)/2);
}
// ---- Panel 2: SASA
{
  const L=708,R=1248,T=24,B=333;
  const x=d3.scaleLinear().domain([0,50]).range([L,R]);
  const y=d3.scaleLinear().domain([130,330]).range([B,T]);
  const g=clip(L,R,T,B);
  drawLine(g, series(sasaBlack), x, y, colors.black);
  drawLine(g, series(sasaRed), x, y, colors.red);
  drawLine(g, series(sasaBlue), x, y, colors.blue);
  drawLine(g, series(sasaGreen), x, y, colors.green);
  xAxes(x,T,B,timeTicks,timeMinor,true,fmt0);
  yAxes(y,L,R,sasaTicks,sasaMinor,fmt0);
  frame(L,R,T,B);
  xTitle("Time (ns)", (L+R)/2, 385);
  const t=svg.append("text").attr("transform",`translate(665,${(T+B)/2}) rotate(-90)`).attr("text-anchor","middle").attr("font-size",22.5);
  t.append("tspan").text("SASA (nm");
  t.append("tspan").attr("dy",-9).attr("font-size",14).text("2");
  t.append("tspan").attr("dy",9).text(")");
  legendNames.forEach((d,i)=>{
    const tx=svg.append("text").attr("x",728).attr("y",133+i*35).attr("font-size",20).attr("fill",colors[d[3]]);
    tx.append("tspan").text(d[0]);
    tx.append("tspan").attr("font-style","italic").text(d[1]);
    tx.append("tspan").text(d[2]);
  });
}
// ---- Panel 3: RMSF
{
  const L=68,R=608,T=414,B=722;
  const x=d3.scaleLinear().domain([0,320]).range([L,R]);
  const y=d3.scaleLinear().domain([0,1.4]).range([B,T]);
  const g=clip(L,R,T,B);
  drawLine(g, rmsfBlack, x, y, colors.black);
  drawLine(g, rmsfBlue, x, y, colors.blue);
  drawLine(g, rmsfRed, x, y, colors.red);
  drawLine(g, rmsfGreen, x, y, colors.green);
  xAxes(x,T,B,resTicks,resMinor,true,fmt0);
  yAxes(y,L,R,rmsfTicks,rmsfMinor,fmt1);
  frame(L,R,T,B);
  xTitle("Amino acid residue", (L+R)/2, 775);
  yTitle("RMSF (nm)", 28, (T+B)/2);
}
// ---- Panel 4: Rg with broken axis
{
  const L=68,R=608,T=804,B=1113, brkTop=987, brkBot=994;
  const x=d3.scaleLinear().domain([0,50]).range([L,R]);
  const yU=d3.scaleLinear().domain([5.1,6.6]).range([brkTop,T]);
  const yL=d3.scaleLinear().domain([2.3,2.7]).range([B,brkBot]);
  const gU=clip(L,R,T,brkTop);
  drawLine(gU, series(rgBlue), x, yU, colors.blue);
  const gL=clip(L,R,brkBot,B);
  drawLine(gL, series(rgBlack), x, yL, colors.black);
  drawLine(gL, series(rgRed), x, yL, colors.red);
  drawLine(gL, series(rgGreen), x, yL, colors.green);
  xAxes(x,T,B,timeTicks,timeMinor,true,fmt0);
  yAxes(yU,L,R,rgUpTicks,rgUpMinor,fmt1);
  yAxes(yL,L,R,rgLowTicks,rgLowMinor,fmt1);
  const ln=(x1,y1,x2,y2,w)=>svg.append("line").attr("x1",x1).attr("y1",y1).attr("x2",x2).attr("y2",y2).attr("stroke","#000").attr("stroke-width",w||1.6);
  ln(L,T,R,T); ln(L,B,R,B);
  ln(L,T,L,brkTop+1); ln(L,brkBot-1,L,B);
  ln(R,T,R,brkTop+1); ln(R,brkBot-1,R,B);
  [L,R].forEach(xx=>{
    ln(xx-6,brkTop+4,xx+6,brkTop-3,1.6);
    ln(xx-6,brkBot+3,xx+6,brkBot-4,1.6);
  });
  xTitle("Time (ns)", (L+R)/2, 1165);
  yTitle("Rg (nm)", 28, (T+B)/2);
}
// ---- H-bond panels
{
  const L=708,R=1248;
  const x=d3.scaleLinear().domain([0,50]).range([L,R]);
  const panels=[
    {T:414,B:569,color:colors.black,ones:hbBlackOnes,runs:[],twos:hbBlackTwos,threes:hbBlackThrees},
    {T:598,B:752,color:colors.red,ones:[],runs:hbRedRuns,twos:hbRedTwos,threes:[]},
    {T:779,B:932,color:colors.blue,ones:hbBlueOnes,runs:[],twos:hbBlueTwos,threes:[]},
    {T:959,B:1113,color:colors.green,ones:hbGreenOnes,runs:hbGreenRuns,twos:hbGreenTwos,threes:hbGreenThrees}
  ];
  panels.forEach((p,i)=>{
    const y=d3.scaleLinear().domain([0,3]).range([p.B,p.T]);
    const g=clip(L,R,p.T,p.B);
    const ev=[];
    p.runs.forEach(r=>ev.push([r[0],r[1],1]));
    p.ones.forEach(t=>ev.push([t,t,1]));
    p.twos.forEach(t=>ev.push([t,t,2]));
    p.threes.forEach(t=>ev.push([t,t,3]));
    g.selectAll("rect.ev").data(ev).join("rect")
      .attr("x",d=>x(d[0])-0.5).attr("width",d=>Math.max(1.1,x(d[1])-x(d[0])+1))
      .attr("y",d=>y(d[2])).attr("height",d=>y(0)-y(d[2])).attr("fill",p.color);
    xAxes(x,p.T,p.B,timeTicks,timeMinor,i===3,fmt0);
    yAxes(y,L,R,hbTicks,hbMinor,fmt0);
    frame(L,R,p.T,p.B);
  });
  xTitle("Time (ns)", (L+R)/2, 1165);
  yTitle("Number of intermolecular H-bonds", 665, 770);
}
</script>
</body></html>
